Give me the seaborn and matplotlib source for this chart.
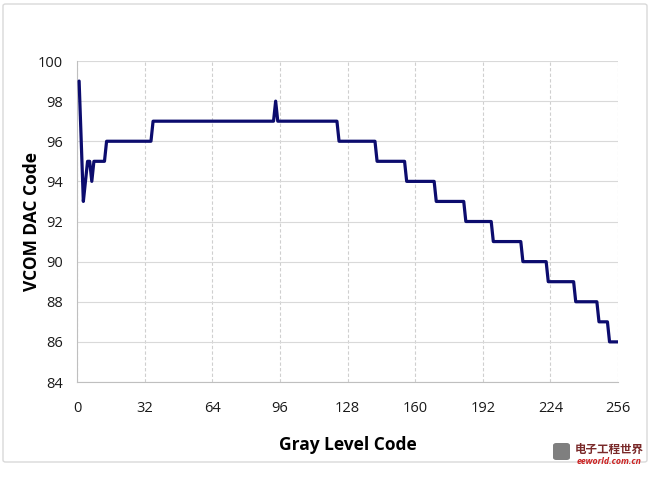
import matplotlib
matplotlib.use("Agg")
import matplotlib.pyplot as plt
from matplotlib.patches import FancyBboxPatch
import seaborn as sns
import pandas as pd

# Corner points of the curve (Gray Level Code -> VCOM DAC Code)
gray_code = [1, 2, 3, 4, 5, 6, 7, 8, 13, 14, 35, 36, 93, 94, 95,
             123, 124, 141, 142, 155, 156, 169, 170, 183, 184,
             196, 197, 210, 211, 222, 223, 235, 236, 246, 247, 251, 252, 256]
vcom_code = [99, 96, 93, 94, 95, 95, 94, 95, 95, 96, 96, 97, 97, 98, 97,
             97, 96, 96, 95, 95, 94, 94, 93, 93, 92,
             92, 91, 91, 90, 90, 89, 89, 88, 88, 87, 87, 86, 86]
x_ticks = [0, 32, 64, 96, 128, 160, 192, 224, 256]
y_ticks = [84, 86, 88, 90, 92, 94, 96, 98, 100]

df = pd.DataFrame({"Gray Level Code": gray_code, "VCOM DAC Code": vcom_code})

sns.set_theme(style="white")
plt.rcParams["font.family"] = ["Open Sans", "DejaVu Sans"]

fig = plt.figure(figsize=(6.5, 4.78), dpi=100)
ax = fig.add_axes([77 / 650, 1 - 382 / 478, (618 - 77) / 650, (382 - 61) / 478])

# chart-area border
fig.patches.append(FancyBboxPatch((3 / 650, 1 - 462 / 478), 644 / 650, 458 / 478,
                                  boxstyle="round,pad=0,rounding_size=0.004",
                                  transform=fig.transFigure, fill=False,
                                  edgecolor="#d9d9d9", linewidth=1.0))

sns.lineplot(data=df, x="Gray Level Code", y="VCOM DAC Code", ax=ax,
             color="#0c0c6e", linewidth=2.3, zorder=5)

ax.set_xlim(0, 256)
ax.set_ylim(84, 100)
ax.set_xticks(x_ticks)
ax.set_yticks(y_ticks)
ax.tick_params(axis="both", labelsize=10.5, length=4, width=0.8,
               direction="out", color="#bfbfbf")
ax.tick_params(axis="x", pad=10)
ax.tick_params(axis="y", pad=6)
for lbl in ax.get_xticklabels() + ax.get_yticklabels():
    lbl.set_color("#1a1a1a")

ax.grid(axis="y", color="#d9d9d9", linewidth=0.8, linestyle="-")
ax.grid(axis="x", color="#cfcfcf", linewidth=0.8, linestyle=(0, (3, 2)))
ax.set_axisbelow(True)
for side in ["top", "right"]:
    ax.spines[side].set_visible(False)
for side in ["left", "bottom"]:
    ax.spines[side].set_color("#bfbfbf")
    ax.spines[side].set_linewidth(0.8)

ax.set_xlabel("Gray Level Code", fontsize=12.5, fontweight="bold", labelpad=14,
              color="#000000")
ax.set_ylabel("VCOM DAC Code", fontsize=12.5, fontweight="bold", labelpad=-2,
              color="#000000")

# watermark
fig.patches.append(FancyBboxPatch((553 / 650, 1 - 460 / 478), 17 / 650, 17 / 478,
                                  boxstyle="round,pad=0,rounding_size=0.005",
                                  transform=fig.transFigure, facecolor="#7f7f7f",
                                  edgecolor="none"))
fig.text(609 / 650, 1 - 449 / 478, "电子工程世界", fontsize=8.3, color="#7a2a2a",
         ha="center", va="center", family=["Noto Sans CJK SC", "DejaVu Sans"],
         fontweight="bold")
fig.text(609 / 650, 1 - 461 / 478, "eeworld.com.cn", fontsize=6.3, color="#cc2222",
         ha="center", va="center", style="italic", fontweight="bold")

fig.savefig("out.png", dpi=100)
